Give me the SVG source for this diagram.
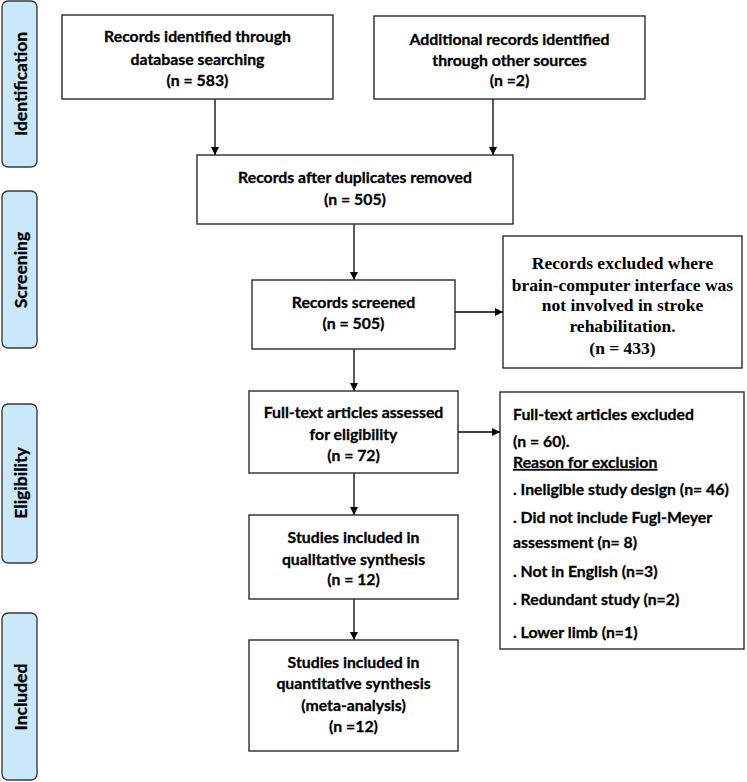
<svg xmlns="http://www.w3.org/2000/svg" width="747" height="782" viewBox="0 0 747 782">
<style>
.bg{fill:#ffffff}
.box{fill:#ffffff;stroke:#2b2b2b;stroke-width:1.4}
.side{fill:#c9e9fb;stroke:#3a3a3a;stroke-width:1.4}
.t{font-family:Lato,"Liberation Sans",sans-serif;font-weight:bold;font-size:15.8px;fill:#000;stroke:#000;stroke-width:0.3;text-anchor:middle}
.tl{font-family:Lato,"Liberation Sans",sans-serif;font-weight:bold;font-size:15.8px;fill:#000;stroke:#000;stroke-width:0.3}
.ts{font-family:"Liberation Serif",serif;font-weight:bold;font-size:17.5px;fill:#000;text-anchor:middle}
.st{font-family:Lato,"Liberation Sans",sans-serif;font-weight:bold;font-size:17.5px;fill:#000;stroke:#000;stroke-width:0.3;text-anchor:middle}
.c{stroke:#000;stroke-width:1.3;fill:none;marker-end:url(#ah)}
</style>
<defs>
<marker id="ah" viewBox="0 0 10 10" refX="10" refY="5" markerWidth="8" markerHeight="8" markerUnits="userSpaceOnUse" orient="auto">
<path d="M0,0 L10,5 L0,10 z" fill="#000"/>
</marker>
</defs>
<rect class="bg" x="0" y="0" width="747" height="782"/>

<g id="side-identification">
<rect class="side" x="2" y="1" width="35" height="166" rx="6"/>
<text class="st" transform="translate(26.5,84) rotate(-90)">Identification</text>
</g>
<g id="side-screening">
<rect class="side" x="2" y="191" width="35" height="157" rx="6"/>
<text class="st" transform="translate(26.5,270) rotate(-90)">Screening</text>
</g>
<g id="side-eligibility">
<rect class="side" x="2" y="404" width="35" height="159" rx="6"/>
<text class="st" transform="translate(26.5,483) rotate(-90)">Eligibility</text>
</g>
<g id="side-included">
<rect class="side" x="2" y="613" width="35" height="167" rx="6"/>
<text class="st" transform="translate(26.5,697) rotate(-90)">Included</text>
</g>

<g id="connectors">
<line class="c" x1="215" y1="99" x2="215" y2="155"/>
<line class="c" x1="493" y1="99" x2="493" y2="155"/>
<line class="c" x1="354" y1="224" x2="354" y2="280"/>
<line class="c" x1="455" y1="312" x2="503" y2="312"/>
<line class="c" x1="354" y1="349" x2="354" y2="391"/>
<line class="c" x1="458" y1="432" x2="500" y2="432"/>
<line class="c" x1="354" y1="473" x2="354" y2="515"/>
<line class="c" x1="354" y1="599" x2="354" y2="640"/>
</g>

<g id="db-search">
<rect class="box" x="62" y="15" width="271" height="84"/>
<text class="t" x="197.5" y="42">Records identified through</text>
<text class="t" x="197.5" y="65">database searching</text>
<text class="t" x="197.5" y="86">(n = 583)</text>
</g>
<g id="other-sources">
<rect class="box" x="374" y="16" width="271" height="83"/>
<text class="t" x="509.5" y="45">Additional records identified</text>
<text class="t" x="509.5" y="66">through other sources</text>
<text class="t" x="509.5" y="86">(n =2)</text>
</g>
<g id="duplicates-removed">
<rect class="box" x="197" y="155" width="316" height="69"/>
<text class="t" x="355" y="183">Records after duplicates removed</text>
<text class="t" x="355" y="205">(n = 505)</text>
</g>
<g id="screened">
<rect class="box" x="252" y="280" width="203" height="69"/>
<text class="t" x="353.5" y="308">Records screened</text>
<text class="t" x="353.5" y="329">(n = 505)</text>
</g>
<g id="screen-excluded">
<rect class="box" x="503" y="236" width="239" height="132"/>
<text class="ts" x="622.5" y="269">Records excluded where</text>
<text class="ts" x="622.5" y="291">brain-computer interface was</text>
<text class="ts" x="622.5" y="311">not involved in stroke</text>
<text class="ts" x="622.5" y="332">rehabilitation.</text>
<text class="ts" x="622.5" y="354">(n = 433)</text>
</g>
<g id="fulltext">
<rect class="box" x="249" y="391" width="209" height="82"/>
<text class="t" x="353.5" y="418">Full-text articles assessed</text>
<text class="t" x="353.5" y="440">for eligibility</text>
<text class="t" x="353.5" y="461">(n = 72)</text>
</g>
<g id="fulltext-excluded">
<rect class="box" x="500" y="392" width="244" height="257"/>
<text class="tl" x="513" y="420">Full-text articles excluded</text>
<text class="tl" x="513" y="447">(n = 60).</text>
<text class="tl" x="513" y="468" text-decoration="underline">Reason for exclusion</text>
<text class="tl" x="513" y="495">. Ineligible study design (n= 46)</text>
<text class="tl" x="513" y="523">.  Did not include Fugl-Meyer</text>
<text class="tl" x="513" y="548">assessment (n= 8)</text>
<text class="tl" x="513" y="577">. Not in English (n=3)</text>
<text class="tl" x="513" y="605">. Redundant study (n=2)</text>
<text class="tl" x="513" y="638">.  Lower limb (n=1)</text>
</g>
<g id="qualitative">
<rect class="box" x="249" y="515" width="209" height="84"/>
<text class="t" x="353.5" y="543">Studies included in</text>
<text class="t" x="353.5" y="565">qualitative synthesis</text>
<text class="t" x="353.5" y="585">(n = 12)</text>
</g>
<g id="quantitative">
<rect class="box" x="249" y="640" width="209" height="111"/>
<text class="t" x="353.5" y="668">Studies included in</text>
<text class="t" x="353.5" y="689">quantitative synthesis</text>
<text class="t" x="353.5" y="711">(meta-analysis)</text>
<text class="t" x="353.5" y="732">(n =12)</text>
</g>
</svg>
